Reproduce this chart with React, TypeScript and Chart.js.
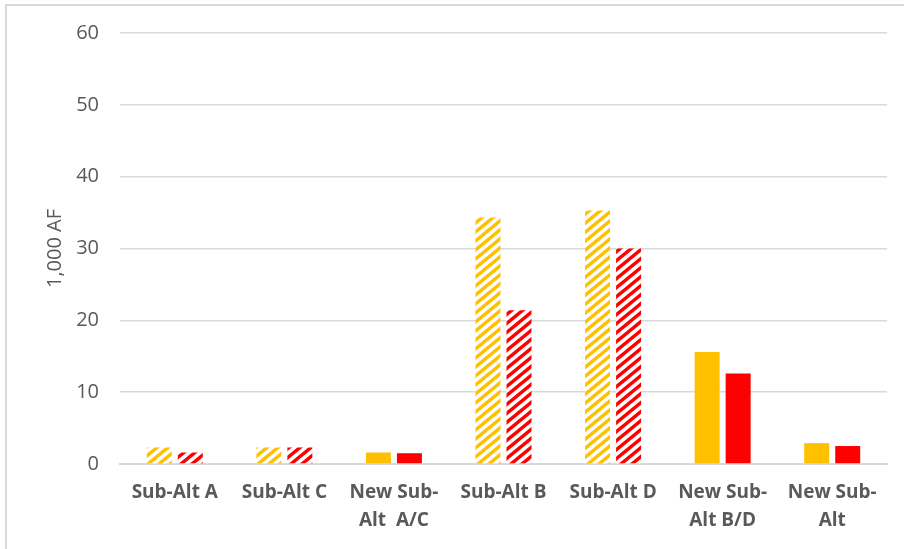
import React, { useEffect, useRef } from "react";
import { Chart, registerables } from "chart.js";

Chart.register(...registerables);

const categories: (string | string[])[] = [
  "Sub-Alt A",
  "Sub-Alt C",
  ["New Sub-", "Alt  A/C"],
  "Sub-Alt B",
  "Sub-Alt D",
  ["New Sub-", "Alt B/D"],
  ["New Sub-", "Alt"],
];

const yellowValues = [2.3, 2.3, 1.6, 34.3, 35.3, 15.6, 2.9];
const redValues = [1.6, 2.3, 1.5, 21.4, 30.0, 12.6, 2.5];
const hatched = [true, true, false, true, true, false, false];

const yMin = 0;
const yMax = 60;
const yStep = 10;
const yTitle = "1,000 AF";

const YELLOW = "#FFC000";
const RED = "#FF0000";

function makePattern(color: string): CanvasPattern | string {
  const w = 11;
  const h = 9;
  const c = document.createElement("canvas");
  c.width = w;
  c.height = h;
  const ctx = c.getContext("2d");
  if (!ctx) return color;
  ctx.fillStyle = "#ffffff";
  ctx.fillRect(0, 0, w, h);
  ctx.strokeStyle = color;
  ctx.lineWidth = 3.4;
  ctx.lineCap = "butt";
  for (let k = -1; k <= 1; k++) {
    ctx.beginPath();
    ctx.moveTo(k * w - w, 2 * h);
    ctx.lineTo(k * w + 2 * w, -h);
    ctx.stroke();
  }
  const p = ctx.createPattern(c, "repeat");
  return p || color;
}

export default function App() {
  const ref = useRef<HTMLCanvasElement | null>(null);

  useEffect(() => {
    if (!ref.current) return;
    const yPat = makePattern(YELLOW);
    const rPat = makePattern(RED);
    const chart = new Chart(ref.current, {
      type: "bar",
      data: {
        labels: categories,
        datasets: [
          {
            label: "Yellow",
            data: yellowValues,
            backgroundColor: hatched.map((h) => (h ? yPat : YELLOW)) as any,
            borderWidth: 0,
            categoryPercentage: 0.566,
            barPercentage: 0.806,
          },
          {
            label: "Red",
            data: redValues,
            backgroundColor: hatched.map((h) => (h ? rPat : RED)) as any,
            borderWidth: 0,
            categoryPercentage: 0.566,
            barPercentage: 0.806,
          },
        ],
      },
      options: {
        animation: false,
        responsive: false,
        maintainAspectRatio: false,
        layout: { padding: { left: 0, right: 17, top: 33, bottom: 0 } },
        plugins: {
          legend: { display: false },
          tooltip: { enabled: false },
        },
        scales: {
          x: {
            grid: { display: false, drawTicks: false },
            border: { display: true, color: "#d9d9d9", width: 2 },
            ticks: {
              color: "#595959",
              font: { family: "'Open Sans'", size: 19, weight: "bold", lineHeight: 1.5 },
              padding: 14,
              maxRotation: 0,
              autoSkip: false,
            },
            afterFit: (scale: any) => {
              scale.height = 85;
            },
          },
          y: {
            min: yMin,
            max: yMax,
            ticks: {
              stepSize: yStep,
              color: "#595959",
              font: { family: "'Open Sans'", size: 20 },
              padding: 21,
            },
            grid: { color: "#d9d9d9", lineWidth: 1.5, drawTicks: false },
            border: { display: false },
            title: {
              display: true,
              text: yTitle,
              color: "#595959",
              font: { family: "'Open Sans'", size: 20, lineHeight: 1.2 },
              padding: { top: 43, bottom: 0 },
            },
            afterFit: (scale: any) => {
              scale.width = 120;
            },
          },
        },
      },
    });
    return () => chart.destroy();
  }, []);

  return (
    <div
      style={{
        position: "fixed",
        left: 0,
        top: 0,
        width: 904,
        height: 549,
        background: "#ffffff",
        overflow: "hidden",
      }}
    >
      <div
        style={{
          position: "absolute",
          left: 5,
          top: 4,
          width: 920,
          height: 570,
          borderTop: "2px solid #d9d9d9",
          borderLeft: "2px solid #d9d9d9",
          boxSizing: "border-box",
        }}
      />
      <canvas
        ref={ref}
        width={904}
        height={549}
        style={{ position: "absolute", left: 0, top: 0, width: 904, height: 549 }}
      />
    </div>
  );
}
